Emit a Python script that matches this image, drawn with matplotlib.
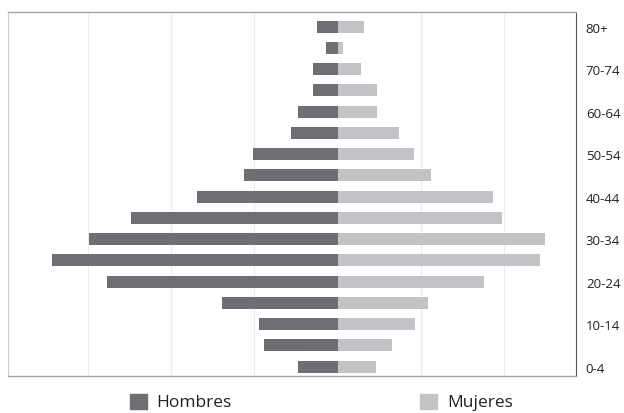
import matplotlib
matplotlib.use("Agg")
import matplotlib.pyplot as plt
from matplotlib.patches import Rectangle
import numpy as np

plt.rcParams["font.family"] = ["Open Sans", "DejaVu Sans"]

# age groups, youngest first
grupos = ["0-4", "5-9", "10-14", "15-19", "20-24", "25-29", "30-34", "35-39",
          "40-44", "45-49", "50-54", "55-59", "60-64", "65-69", "70-74",
          "75-79", "80+"]
hombres = [47, 88, 95, 139, 277, 344, 299, 249, 169, 113, 102, 56, 47, 29, 29, 14, 25]
mujeres = [46, 66, 93, 109, 176, 243, 250, 198, 187, 113, 92, 74, 48, 48, 28, 7, 32]

c_hom = "#6e6e74"
c_muj = "#c3c3c7"

fig = plt.figure(figsize=(6.24, 4.14), dpi=100)
ax = fig.add_axes([0.0133, 0.090, 0.910, 0.879])

y = np.arange(len(grupos))
ax.barh(y, [-v for v in hombres], height=0.56, color=c_hom, zorder=3)
ax.barh(y, mujeres, height=0.56, color=c_muj, zorder=3)

ax.set_xlim(-396, 287)
ax.set_ylim(-0.43, 16.70)

for gx in (-300, -200, -100, 100, 200):
    ax.axvline(gx, color="#ececec", lw=0.8, zorder=1)

ax.set_xticks([])
ax.set_yticks(y[::2])
ax.set_yticklabels(grupos[::2], fontsize=9.5, color="#222222")
ax.yaxis.tick_right()
ax.tick_params(axis="y", length=0, pad=7)

for s in ("top", "bottom"):
    ax.spines[s].set_color("#a5a5a5")
    ax.spines[s].set_linewidth(1.0)
ax.spines["left"].set_color("#cccccc")
ax.spines["left"].set_linewidth(0.8)
ax.spines["right"].set_color("#555555")
ax.spines["right"].set_linewidth(0.8)
ax.spines["right"].set_linestyle((0, (1, 1)))

# legend drawn by hand so the two entries sit far apart
fig.add_artist(Rectangle((130 / 624, 1 - 410 / 414), 17 / 624, 15 / 414,
                         transform=fig.transFigure, color=c_hom))
fig.text(156 / 624, 1 - 403 / 414, "Hombres", fontsize=12.5, va="center",
         color="#222222")
fig.add_artist(Rectangle((420 / 624, 1 - 410 / 414), 17 / 624, 15 / 414,
                         transform=fig.transFigure, color=c_muj))
fig.text(447 / 624, 1 - 403 / 414, "Mujeres", fontsize=12.5, va="center",
         color="#222222")

fig.savefig("out.png", dpi=100)
